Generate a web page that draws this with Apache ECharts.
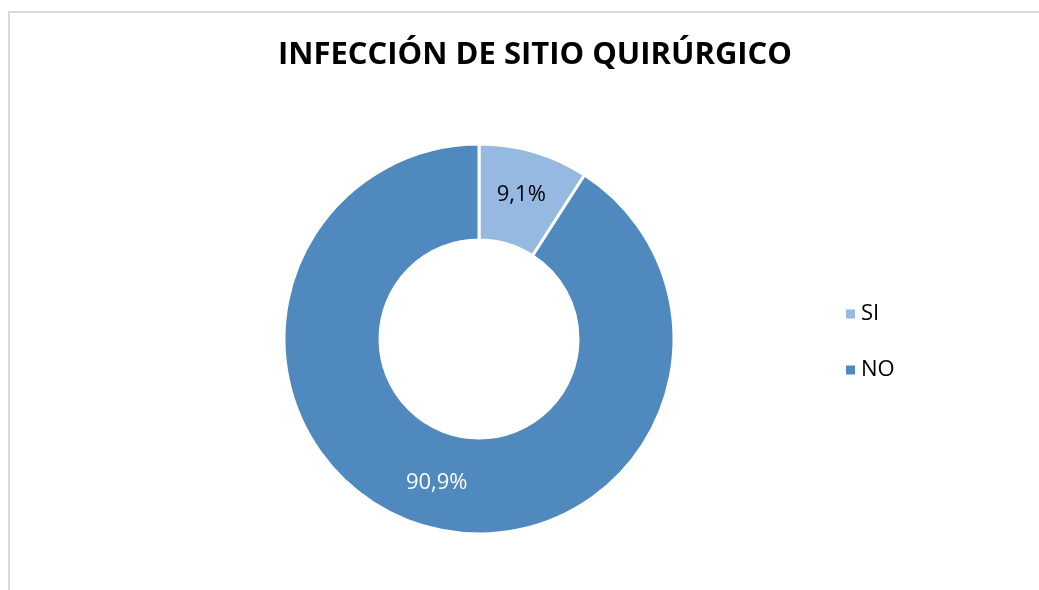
<!DOCTYPE html>
<html>
<head>
<meta charset="utf-8">
<script src="https://cdn.jsdelivr.net/npm/echarts@6/dist/echarts.min.js"></script>
<style>
  html, body { margin: 0; padding: 0; background: #fff; overflow: hidden; }
  #frame { position: absolute; left: 8px; top: 11px; width: 1200px; height: 800px; border: 2px solid #d9d9d9; box-sizing: border-box; }
  #chart { position: absolute; left: 0; top: 0; width: 1039px; height: 590px; }
</style>
</head>
<body>
<div id="frame"></div>
<div id="chart"></div>
<script>
const categories = ['SI', 'NO'];
const values = [9.1, 90.9];
const colors = ['#95b9e0', '#4f89bd'];
const labelColors = ['#000000', '#ffffff'];

const myChart = echarts.init(document.getElementById('chart'));
const seriesData = categories.map((name, i) => ({
  name: name,
  value: values[i],
  itemStyle: { color: colors[i] },
  label: { color: labelColors[i] }
}));

const option = {
  title: {
    text: 'INFECCIÓN DE SITIO QUIRÚRGICO',
    left: 530,
    textAlign: 'center',
    top: 35,
    textStyle: { fontFamily: 'Open Sans', fontWeight: 'bold', fontSize: 31, color: '#000' }
  },
  legend: {
    orient: 'vertical',
    left: 839,
    top: 298,
    itemWidth: 11,
    itemHeight: 11,
    itemGap: 34,
    icon: 'rect',
    data: categories,
    textStyle: { fontFamily: 'Open Sans', fontSize: 22, color: '#000' }
  },
  series: [{
    type: 'pie',
    center: [479, 339],
    radius: [99, 195],
    startAngle: 90,
    clockwise: true,
    avoidLabelOverlap: false,
    itemStyle: { borderColor: '#fff', borderWidth: 3 },
    label: {
      show: true,
      position: 'inside',
      fontFamily: 'Open Sans',
      fontSize: 22,
      formatter: p => p.value.toFixed(1).replace('.', ',') + '%'
    },
    labelLine: { show: false },
    emphasis: { disabled: true },
    data: seriesData
  }]
};
myChart.setOption(option);
</script>
</body>
</html>
